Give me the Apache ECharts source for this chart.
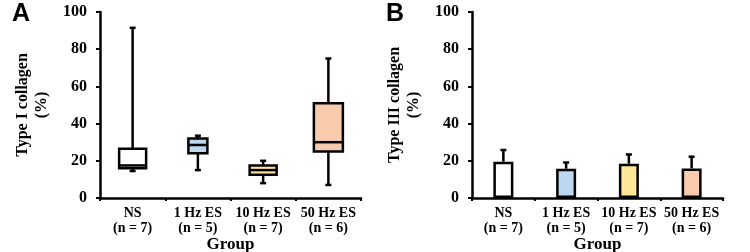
<!DOCTYPE html>
<html>
<head>
<meta charset="utf-8">
<script src="https://cdn.jsdelivr.net/npm/echarts@6/dist/echarts.min.js"></script>
<style>
  html, body { margin: 0; padding: 0; background: #fff; }
  #chart { width: 750px; height: 252px; }
</style>
</head>
<body>
<div id="chart"></div>
<script>
// groups and labels
const groups = ['NS\n(n = 7)', '1 Hz ES\n(n = 5)', '10 Hz ES\n(n = 7)', '50 Hz ES\n(n = 6)']
const yTicks = [0, 20, 40, 60, 80, 100]

// panel A: type I collagen box plots [min, q1, median, q3, max]
const type1Box = [
  [14.5, 16, 17.5, 26.5, 91.5],
  [15, 24, 28.5, 32, 33.5],
  [8, 12.5, 15, 17.5, 20],
  [7, 25, 30, 51, 75]
]

// panel B: type III collagen mean and upper error
const type3Mean = [19.5, 15.7, 18.4, 15.9]
const type3Err = [25.8, 19.1, 23.4, 22.2]

const fills = ['#ffffff', '#bdd7ee', '#ffe699', '#f8cbad']
const boxWidths = [27, 19, 27, 29]

const serif = '"Liberation Serif", "Times New Roman", serif'

function axisX(gridIndex) {
  return {
    type: 'category',
    gridIndex: gridIndex,
    data: groups,
    axisLine: { lineStyle: { color: '#000', width: 2.5 } },
    axisTick: { show: true, length: 3, lineStyle: { color: '#000', width: 2 } },
    axisLabel: {
      color: '#000', fontFamily: serif, fontWeight: 'bold',
      fontSize: 14, lineHeight: 15, margin: 8, interval: 0
    },
    name: 'Group',
    nameLocation: 'middle',
    nameGap: 38,
    nameMoveOverlap: false,
    nameTextStyle: { color: '#000', fontFamily: serif, fontWeight: 'bold', fontSize: 17 }
  }
}

function axisY(gridIndex, title) {
  return {
    type: 'value',
    gridIndex: gridIndex,
    min: 0, max: 100, interval: 20,
    axisLine: { show: true, lineStyle: { color: '#000', width: 2.5 } },
    axisTick: { show: true, length: 4, lineStyle: { color: '#000', width: 2 } },
    splitLine: { show: false },
    axisLabel: {
      color: '#000', fontFamily: serif, fontWeight: 'bold', fontSize: 16, margin: 13,
      formatter: v => (yTicks.indexOf(v) >= 0 ? String(v) : '')
    },
    name: title + '\n(%)',
    nameLocation: 'middle',
    nameRotate: 90,
    nameGap: 49,
    nameMoveOverlap: false,
    nameTextStyle: {
      color: '#000', fontFamily: serif, fontWeight: 'bold', fontSize: 16, lineHeight: 19
    }
  }
}

const chart = echarts.init(document.getElementById('chart'))

const option = {
  animation: false,
  backgroundColor: '#fff',
  grid: [
    { left: 100, right: 389, top: 12, bottom: 54, outerBoundsMode: 'none' },
    { left: 472, right: 27, top: 12, bottom: 54, outerBoundsMode: 'none' }
  ],
  xAxis: [axisX(0), axisX(1)],
  yAxis: [axisY(0, 'Type I collagen'), axisY(1, 'Type III collagen')],
  graphic: [
    { type: 'text', left: 12, top: 2, style: { text: 'A', font: 'bold 25px "Liberation Sans", Arial, sans-serif', fill: '#000' } },
    { type: 'text', left: 386, top: 2, style: { text: 'B', font: 'bold 25px "Liberation Sans", Arial, sans-serif', fill: '#000' } }
  ],
  series: [
    {
      // box plots drawn through the axis scales
      type: 'custom',
      xAxisIndex: 0,
      yAxisIndex: 0,
      data: type1Box.map((b, i) => [i].concat(b)),
      renderItem(params, api) {
        const i = api.value(0)
        const pMin = api.coord([i, api.value(1)])
        const pQ1 = api.coord([i, api.value(2)])
        const pMed = api.coord([i, api.value(3)])
        const pQ3 = api.coord([i, api.value(4)])
        const pMax = api.coord([i, api.value(5)])
        const hw = boxWidths[params.dataIndex] / 2
        const cap = 3
        const x = pMin[0]
        const stroke = { stroke: '#000', lineWidth: 2.5 }
        return {
          type: 'group',
          children: [
            { type: 'line', shape: { x1: x, y1: pMax[1], x2: x, y2: pMin[1] }, style: stroke },
            { type: 'line', shape: { x1: x - cap, y1: pMax[1], x2: x + cap, y2: pMax[1] }, style: stroke },
            { type: 'line', shape: { x1: x - cap, y1: pMin[1], x2: x + cap, y2: pMin[1] }, style: stroke },
            {
              type: 'rect',
              shape: { x: x - hw, y: pQ3[1], width: hw * 2, height: pQ1[1] - pQ3[1] },
              style: { fill: fills[params.dataIndex], stroke: '#000', lineWidth: 2.5 }
            },
            { type: 'line', shape: { x1: x - hw, y1: pMed[1], x2: x + hw, y2: pMed[1] }, style: stroke }
          ]
        }
      }
    },
    {
      type: 'bar',
      xAxisIndex: 1,
      yAxisIndex: 1,
      barWidth: 20,
      z: 2,
      data: type3Mean.map((v, i) => ({
        value: v,
        itemStyle: { color: fills[i], borderColor: '#000', borderWidth: 2.5 }
      }))
    },
    {
      // upper error bars
      type: 'custom',
      xAxisIndex: 1,
      yAxisIndex: 1,
      z: 1,
      data: type3Mean.map((v, i) => [i, v, type3Err[i]]),
      renderItem(params, api) {
        const i = api.value(0)
        const pMean = api.coord([i, api.value(1)])
        const pTop = api.coord([i, api.value(2)])
        const stroke = { stroke: '#000', lineWidth: 2.5 }
        return {
          type: 'group',
          children: [
            { type: 'line', shape: { x1: pMean[0], y1: pMean[1], x2: pTop[0], y2: pTop[1] }, style: stroke },
            { type: 'line', shape: { x1: pTop[0] - 3, y1: pTop[1], x2: pTop[0] + 3, y2: pTop[1] }, style: stroke }
          ]
        }
      }
    }
  ]
}

chart.setOption(option)
</script>
</body>
</html>
